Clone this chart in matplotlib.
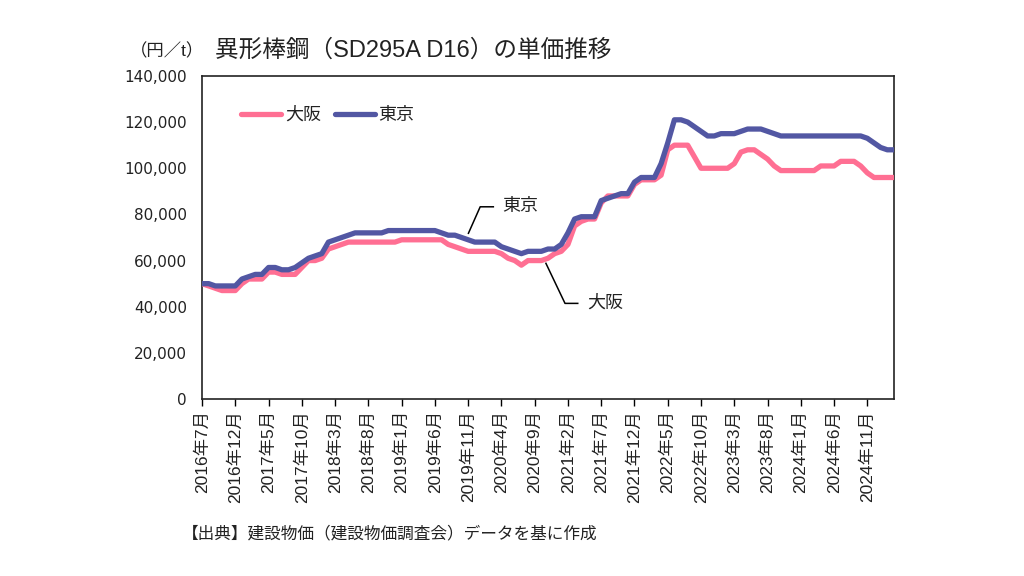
import numpy as np
import matplotlib
matplotlib.use("Agg")
import matplotlib.pyplot as plt
from matplotlib.ticker import FuncFormatter, FixedLocator

plt.rcParams['font.family'] = ['Liberation Sans', 'Noto Sans CJK JP', 'DejaVu Sans']

# monthly unit price (円/t), 2016年7月 .. 2025年3月
tokyo = [
    50000, 50000, 49000, 49000, 49000, 49000,                      # 2016 Jul-Dec
    52000, 53000, 54000, 54000, 57000, 57000, 56000, 56000, 57000, 59000, 61000, 62000,  # 2017
    63000, 68000, 69000, 70000, 71000, 72000, 72000, 72000, 72000, 72000, 73000, 73000,  # 2018
    73000, 73000, 73000, 73000, 73000, 73000, 72000, 71000, 71000, 70000, 69000, 68000,  # 2019
    68000, 68000, 68000, 66000, 65000, 64000, 63000, 64000, 64000, 64000, 65000, 65000,  # 2020
    67000, 72000, 78000, 79000, 79000, 79000, 86000, 87000, 88000, 89000, 89000, 94000,  # 2021
    96000, 96000, 96000, 102000, 111000, 121000, 121000, 120000, 118000, 116000, 114000, 114000,  # 2022
    115000, 115000, 115000, 116000, 117000, 117000, 117000, 116000, 115000, 114000, 114000, 114000,  # 2023
    114000, 114000, 114000, 114000, 114000, 114000, 114000, 114000, 114000, 114000, 113000, 111000,  # 2024
    109000, 108000, 108000,                                         # 2025 Jan-Mar
]
osaka = [
    50000, 49000, 48000, 47000, 47000, 47000,                      # 2016 Jul-Dec
    50000, 52000, 52000, 52000, 55000, 55000, 54000, 54000, 54000, 57000, 60000, 60000,  # 2017
    61000, 65000, 66000, 67000, 68000, 68000, 68000, 68000, 68000, 68000, 68000, 68000,  # 2018
    69000, 69000, 69000, 69000, 69000, 69000, 69000, 67000, 66000, 65000, 64000, 64000,  # 2019
    64000, 64000, 64000, 63000, 61000, 60000, 58000, 60000, 60000, 60000, 61000, 63000,  # 2020
    64000, 67000, 75000, 77000, 78000, 78000, 85000, 88000, 88000, 88000, 88000, 93000,  # 2021
    95000, 95000, 95000, 97000, 108000, 110000, 110000, 110000, 105000, 100000, 100000, 100000,  # 2022
    100000, 100000, 102000, 107000, 108000, 108000, 106000, 104000, 101000, 99000, 99000, 99000,  # 2023
    99000, 99000, 99000, 101000, 101000, 101000, 103000, 103000, 103000, 101000, 98000, 96000,  # 2024
    96000, 96000, 96000,                                            # 2025 Jan-Mar
]
tick_labels = [
    "2016年7月", "2016年12月", "2017年5月", "2017年10月", "2018年3月", "2018年8月",
    "2019年1月", "2019年6月", "2019年11月", "2020年4月", "2020年9月", "2021年2月",
    "2021年7月", "2021年12月", "2022年5月", "2022年10月", "2023年3月", "2023年8月",
    "2024年1月", "2024年6月", "2024年11月",
]
series_names = ["大阪", "東京"]
y_ticks = [0, 20000, 40000, 60000, 80000, 100000, 120000, 140000]

PINK = "#FF6F93"
BLUE = "#5257A3"
TXT = "#222222"

fig = plt.figure(figsize=(10.24, 5.76), dpi=100)
ax = fig.add_axes([0.1973, 0.3073, 0.6757, 0.5608])

x = np.arange(len(tokyo))
ax.plot(x, osaka, color=PINK, lw=3.8, solid_capstyle='round', solid_joinstyle='round', label=series_names[0], zorder=3)
ax.plot(x, tokyo, color=BLUE, lw=3.8, solid_capstyle='round', solid_joinstyle='round', label=series_names[1], zorder=4)

ax.set_xlim(0, len(tokyo) - 1)
ax.set_ylim(y_ticks[0], y_ticks[-1])
ax.yaxis.set_major_locator(FixedLocator(y_ticks))
ax.yaxis.set_major_formatter(FuncFormatter(lambda v, p: f"{int(v):,}"))
ax.tick_params(axis='y', length=0, pad=11, labelcolor=TXT)
for lab in ax.get_yticklabels():
    lab.set_fontfamily(['DejaVu Sans'])
    lab.set_fontsize(11)

xt = np.arange(0, len(tokyo), 5)[:len(tick_labels)]
ax.set_xticks(xt)
ax.set_xticklabels(tick_labels, rotation=90, fontsize=12.5, color=TXT)
ax.tick_params(axis='x', direction='out', length=5, width=1, pad=3)

for s in ax.spines.values():
    s.set_color("#222222")
    s.set_linewidth(1.2)

leg = ax.legend(loc='center left', bbox_to_anchor=(0.057, 0.878), ncol=2, frameon=False,
                fontsize=13, handlelength=2.2, handletextpad=0.2, columnspacing=0.8,
                borderaxespad=0, borderpad=0)
for t in leg.get_texts():
    t.set_color(TXT)

# leader-line annotations
ax.plot([0.385, 0.402, 0.421], [0.513, 0.595, 0.595], transform=ax.transAxes, color='black', lw=1.1, zorder=5)
ax.text(0.434, 0.595, series_names[1], transform=ax.transAxes, fontsize=13, va='center', ha='left', color=TXT)
ax.plot([0.497, 0.5246, 0.543], [0.420, 0.296, 0.296], transform=ax.transAxes, color='black', lw=1.1, zorder=5)
ax.text(0.557, 0.296, series_names[0], transform=ax.transAxes, fontsize=13, va='center', ha='left', color=TXT)

fig.text(0.21, 0.912, "異形棒鋼（SD295A D16）の単価推移", fontsize=17, va='center', ha='left', color=TXT)
fig.text(0.127, 0.912, "（円／t）", fontsize=12.5, va='center', ha='left', color=TXT)
fig.text(0.178, 0.073, "【出典】建設物価（建設物価調査会）データを基に作成", fontsize=12, va='center', ha='left', color=TXT)

fig.savefig("out.png", dpi=100, facecolor='white')
